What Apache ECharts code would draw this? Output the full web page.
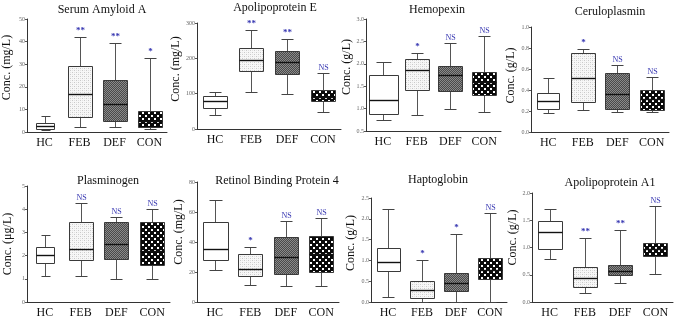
<!DOCTYPE html>
<html><head><meta charset="utf-8">
<script src="https://cdn.jsdelivr.net/npm/echarts@6/dist/echarts.min.js"></script>
<style>html,body{margin:0;padding:0;background:#fff}#c{width:675px;height:319px}</style>
</head><body><div id="c"></div>
<script>
// ---------- DATA ----------
const categories = ['HC', 'FEB', 'DEF', 'CON'];
const panelTitles = ['Serum Amyloid A', 'Apolipoprotein E', 'Hemopexin', 'Ceruloplasmin',
                     'Plasminogen', 'Retinol Binding Protein 4', 'Haptoglobin', 'Apolipoprotein A1'];
const yNames = ['Conc. (mg/L)', 'Conc. (mg/L)', 'Conc. (g/L)', 'Conc. (g/L)',
                'Conc. (μg/L)', 'Conc. (mg/L)', 'Conc. (g/L)', 'Conc. (g/L)'];
// [min, q1, median, q3, max] for HC, FEB, DEF, CON
const serumAmyloidA = [[1.0, 1.5, 2.5, 4.0, 7.1], [2.4, 6.8, 16.9, 29.0, 41.9], [2.2, 4.7, 12.6, 22.9, 39.2], [1.2, 2.2, 5.0, 9.2, 32.8]];
const apolipoproteinE = [[41, 59, 80, 94, 104], [104, 165, 194, 229, 281], [98, 157, 190, 220, 256], [48, 78, 91, 111, 159]];
const hemopexin = [[0.74, 0.89, 1.20, 1.75, 2.03], [0.85, 1.41, 1.87, 2.10, 2.25], [0.99, 1.39, 1.74, 1.96, 2.47], [0.93, 1.30, 1.59, 1.81, 2.63]];
const ceruloplasmin = [[0.18, 0.22, 0.30, 0.375, 0.51], [0.21, 0.29, 0.51, 0.75, 0.79], [0.19, 0.22, 0.365, 0.56, 0.64], [0.19, 0.21, 0.31, 0.40, 0.52]];
const plasminogen = [[1.14, 1.70, 2.02, 2.39, 2.88], [1.10, 1.79, 2.28, 3.43, 4.28], [0.99, 1.84, 2.49, 3.44, 3.67], [1.01, 1.61, 2.20, 3.44, 3.99]];
const retinolBP4 = [[21.6, 28.2, 35.2, 53.3, 67.8], [11.2, 17.2, 22.0, 31.9, 37.0], [10.4, 18.5, 29.9, 43.2, 54.2], [11.0, 19.8, 32.0, 43.8, 56.2]];
const haptoglobin = [[0.13, 0.75, 0.96, 1.31, 2.23], [0.01, 0.10, 0.28, 0.51, 1.01], [0.0, 0.27, 0.46, 0.69, 1.63], [0.0, 0.55, 0.77, 1.06, 2.14]];
const apolipoproteinA1 = [[0.78, 0.98, 1.29, 1.49, 1.70], [0.17, 0.28, 0.44, 0.64, 1.17], [0.34, 0.49, 0.57, 0.67, 1.33], [0.51, 0.85, 0.98, 1.08, 1.76]];
const panelData = [serumAmyloidA, apolipoproteinE, hemopexin, ceruloplasmin, plasminogen, retinolBP4, haptoglobin, apolipoproteinA1];
const significance = [
  ['', '**', '**', '*'], ['', '**', '**', 'NS'], ['', '*', 'NS', 'NS'], ['', '*', 'NS', 'NS'],
  ['', 'NS', 'NS', 'NS'], ['', '*', 'NS', 'NS'], ['', '*', '*', 'NS'], ['', '**', '**', 'NS']
];
const yMin = [0, 0, 0.5, 0, 0, 0, 0, 0];
const yMax = [50, 300, 3.0, 1.0, 5, 80, 2.5, 2.0];
const yStep = [10, 100, 0.5, 0.2, 1, 20, 0.5, 0.5];
const yDecimals = [0, 0, 1, 1, 0, 0, 1, 1];

// ---------- LAYOUT / STYLE ----------
const grids = [
  {left: 26, top: 19, width: 141, height: 113},
  {left: 197, top: 23, width: 144, height: 106},
  {left: 366, top: 19, width: 135, height: 112},
  {left: 531, top: 27, width: 138, height: 105},
  {left: 27, top: 186, width: 143, height: 116},
  {left: 197, top: 182, width: 142, height: 121},
  {left: 371, top: 198, width: 136, height: 104},
  {left: 532, top: 193, width: 141, height: 111}
];
const titlePos = [[102, 3], [275, 1], [437, 3], [610, 5], [108, 174], [277, 174], [438, 173], [610, 176]];
const nameGaps = [14, 11, 11, 14, 13, 11, 14, 13];
const nameShift = [16, 14, 16, 8, 0, 20, 14, 20];
const boxWidths = [[18, 24, 24, 24], [24, 24, 24, 24], [29, 24, 24, 24], [22, 24, 24, 24],
                   [18, 24, 24, 24], [25, 24, 24, 24], [23, 24, 24, 24], [24, 24, 24, 24]];
const serif = '"Liberation Serif", "Times New Roman", serif';
const sigColor = '#3434b0';

function makePattern(size, draw) {
  const c = document.createElement('canvas');
  c.width = size; c.height = size;
  const g = c.getContext('2d');
  draw(g);
  return {image: c, repeat: 'repeat'};
}
const fills = [
  '#ffffff',
  makePattern(4, g => { g.fillStyle = '#f7f7f7'; g.fillRect(0, 0, 4, 4); g.fillStyle = '#c9c9c9'; g.fillRect(0, 0, 1, 1); g.fillRect(2, 2, 1, 1); g.fillStyle = '#e2e2e2'; g.fillRect(2, 0, 1, 1); g.fillRect(0, 2, 1, 1); }),
  makePattern(2, g => { g.fillStyle = '#4a4a4a'; g.fillRect(0, 0, 2, 2); g.fillStyle = '#8a8a8a'; g.fillRect(0, 0, 1, 1); g.fillRect(1, 1, 1, 1); }),
  makePattern(6, g => { g.fillStyle = '#0a0a0a'; g.fillRect(0, 0, 6, 6); g.fillStyle = '#ffffff'; g.fillRect(1, 1, 2, 2); g.fillRect(4, 4, 2, 2); })
];

function makeRender(p) {
  return function (params, api) {
    const i = api.value(0);
    const c0 = api.coord([i, api.value(1)]);
    const xc = Math.round(c0[0]);
    const yMinP = Math.round(c0[1]) + 0.5;
    const yQ1 = Math.round(api.coord([i, api.value(2)])[1]) + 0.5;
    const yMed = Math.round(api.coord([i, api.value(3)])[1]) + 0.5;
    const yQ3 = Math.round(api.coord([i, api.value(4)])[1]) + 0.5;
    const yMaxP = Math.round(api.coord([i, api.value(5)])[1]) + 0.5;
    const bw = boxWidths[p][i];
    const cw = Math.round(bw * 0.5);
    const bx = Math.round(xc - bw / 2) + 0.5;
    const wx = xc + 0.5;
    const cx0 = Math.round(xc - cw / 2) + 0.5;
    const stroke = '#3a3a3a';
    const children = [
      {type: 'line', shape: {x1: wx, y1: yQ3, x2: wx, y2: yMaxP}, style: {stroke: '#555', lineWidth: 1}},
      {type: 'line', shape: {x1: wx, y1: yQ1, x2: wx, y2: yMinP}, style: {stroke: '#555', lineWidth: 1}},
      {type: 'line', shape: {x1: cx0, y1: yMaxP, x2: cx0 + cw, y2: yMaxP}, style: {stroke: '#444', lineWidth: 1}},
      {type: 'line', shape: {x1: cx0, y1: yMinP, x2: cx0 + cw, y2: yMinP}, style: {stroke: '#444', lineWidth: 1}},
      {type: 'rect', shape: {x: bx, y: yQ3, width: bw, height: yQ1 - yQ3}, style: {fill: fills[i], stroke: stroke, lineWidth: 1}},
      {type: 'line', shape: {x1: bx, y1: yMed, x2: bx + bw, y2: yMed}, style: {stroke: '#111', lineWidth: 1.4}}
    ];
    const s = significance[p][i];
    if (s) {
      children.push({type: 'text', x: wx, y: yMaxP - 2,
        style: {text: s, fill: sigColor, font: (s === 'NS' ? '8px ' : 'bold 9px ') + serif, align: 'center', verticalAlign: 'bottom'}});
    }
    return {type: 'group', children: children};
  };
}

const option = {
  animation: false,
  backgroundColor: '#fff',
  title: panelTitles.map((t, p) => ({
    text: t, left: titlePos[p][0], top: titlePos[p][1] + 1, textAlign: 'center', padding: 0,
    textStyle: {fontFamily: serif, fontSize: 12, fontWeight: 'normal', color: '#111'}
  })),
  grid: grids.map(g => Object.assign({containLabel: false}, g)),
  xAxis: grids.map((g, p) => ({
    type: 'category', gridIndex: p, data: categories,
    axisLine: {lineStyle: {color: '#333', width: 1}},
    axisTick: {show: false},
    axisLabel: {fontFamily: serif, fontSize: 12, color: '#111', margin: 5, interval: 0},
    splitLine: {show: false}
  })),
  yAxis: grids.map((g, p) => ({
    type: 'value', gridIndex: p, min: yMin[p], max: yMax[p], interval: yStep[p],
    name: yNames[p], nameLocation: 'middle', nameGap: nameGaps[p],
    nameTextStyle: {fontFamily: serif, fontSize: 12, color: '#111', padding: [0, 0, 0, nameShift[p]]},
    axisLine: {show: true, lineStyle: {color: '#333', width: 1}},
    axisTick: {show: true, length: 2, lineStyle: {color: '#555'}},
    axisLabel: {fontFamily: serif, fontSize: 6, color: '#666', margin: 2,
      formatter: v => v.toFixed(yDecimals[p])},
    splitLine: {show: false}
  })),
  series: panelData.map((d, p) => ({
    type: 'custom', xAxisIndex: p, yAxisIndex: p,
    renderItem: makeRender(p),
    encode: {x: 0, y: [1, 5]},
    data: d.map((r, i) => [i].concat(r)),
    clip: false
  }))
};
const chart = echarts.init(document.getElementById('c'), null, {renderer: 'canvas'});
chart.setOption(option);
</script>
</body></html>
